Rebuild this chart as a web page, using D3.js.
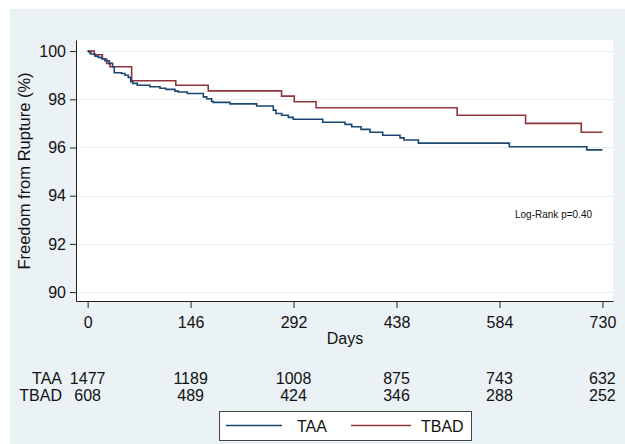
<!DOCTYPE html>
<html>
<head>
<meta charset="utf-8">
<script src="https://cdn.jsdelivr.net/npm/d3@7"></script>
<style>
  html, body { margin: 0; padding: 0; background: #ffffff; }
  svg { display: block; }
  text { font-family: "Liberation Sans", Arial, sans-serif; fill: #111; }
</style>
</head>
<body>
<svg id="chart" width="625" height="444"></svg>
<script>
// ---- data ----
const xTicks = [0, 146, 292, 438, 584, 730];
const yTicks = [90, 92, 94, 96, 98, 100];

const taaDays = [0, 2.3, 4.3, 10.4, 15, 19.8, 24.5, 30.7, 35.4, 37.8, 48.2, 52.9, 57.6, 61, 63.8, 70.4, 88.4, 102.6, 111, 123.8, 128.6, 141.3, 164, 168.8, 175.9, 178.2, 201.8, 239.7, 263.3, 267, 275.2, 284.6, 291.6, 333.3, 365, 374.5, 387.7, 400.4, 418.4, 443, 448.7, 469, 598, 707.8, 730];
const taaSurv = [100, 99.93, 99.88, 99.79, 99.74, 99.68, 99.60, 99.49, 99.35, 99.10, 99.07, 99.0, 98.91, 98.73, 98.66, 98.58, 98.52, 98.46, 98.41, 98.34, 98.30, 98.24, 98.10, 98.02, 97.91, 97.87, 97.81, 97.72, 97.55, 97.41, 97.34, 97.25, 97.17, 97.05, 96.96, 96.86, 96.75, 96.63, 96.51, 96.40, 96.31, 96.18, 96.03, 95.90, 95.90];

const tbadDays = [0, 9.4, 21, 27, 31.6, 62.4, 125, 171, 275, 293, 324, 524, 621, 700, 730];
const tbadSurv = [100, 99.85, 99.67, 99.49, 99.35, 98.77, 98.58, 98.35, 98.13, 97.90, 97.65, 97.34, 97.0, 96.63, 96.63];

const groups = ["TAA", "TBAD"];
const riskTAA = [1477, 1189, 1008, 875, 743, 632];
const riskTBAD = [608, 489, 424, 346, 288, 252];

const xTitle = "Days";
const yTitle = "Freedom from Rupture (%)";
const note = "Log-Rank p=0.40";

// ---- layout ----
const svg = d3.select("#chart");
const colors = { TAA: "#1a476f", TBAD: "#90353b" };
const plot = { left: 76, right: 613, top: 40, bottom: 301 };

svg.append("rect").attr("x", 10).attr("y", 9).attr("width", 615).attr("height", 435)
  .attr("fill", "#eaf2f5");
svg.append("rect").attr("x", plot.left).attr("y", plot.top)
  .attr("width", plot.right - plot.left).attr("height", plot.bottom - plot.top)
  .attr("fill", "#ffffff");

const x = d3.scaleLinear().domain([-16.5, 745]).range([plot.left, plot.right]);
const y = d3.scaleLinear().domain([89.63, 100.46]).range([plot.bottom, plot.top]);

// grid
svg.append("g").selectAll("line").data(yTicks).join("line")
  .attr("x1", plot.left).attr("x2", plot.right)
  .attr("y1", d => Math.round(y(d)) + 0.5).attr("y2", d => Math.round(y(d)) + 0.5)
  .attr("stroke", "#e8eff2").attr("stroke-width", 1.2);

// curves
const line = d3.line().curve(d3.curveStepAfter).x(d => x(d[0])).y(d => y(d[1]));
const taa = taaDays.map((d, i) => [d, taaSurv[i]]);
const tbad = tbadDays.map((d, i) => [d, tbadSurv[i]]);
svg.append("path").datum(tbad).attr("d", line).attr("fill", "none")
  .attr("stroke", colors.TBAD).attr("stroke-width", 1.6);
svg.append("path").datum(taa).attr("d", line).attr("fill", "none")
  .attr("stroke", colors.TAA).attr("stroke-width", 1.6);

// axes
const yAxis = svg.append("g").attr("transform", `translate(${plot.left},0)`)
  .call(d3.axisLeft(y).tickValues(yTicks).tickSize(6).tickSizeOuter(0).tickPadding(4));
const xAxis = svg.append("g").attr("transform", `translate(0,${plot.bottom})`)
  .call(d3.axisBottom(x).tickValues(xTicks).tickSize(7).tickSizeOuter(0).tickPadding(9));
[yAxis, xAxis].forEach(g => {
  g.selectAll("path").attr("stroke", "#222");
  g.selectAll("line").attr("stroke", "#222");
  g.selectAll("text").attr("font-family", "Liberation Sans, Arial, sans-serif")
    .attr("font-size", 16).attr("fill", "#111");
});
xAxis.selectAll("text").attr("dy", null).attr("y", 26.5);

// titles
svg.append("text").attr("x", (x(0) + x(730)) / 2).attr("y", 344)
  .attr("text-anchor", "middle").attr("font-size", 16).text(xTitle);
svg.append("text").attr("transform", "translate(30,171) rotate(-90)")
  .attr("text-anchor", "middle").attr("font-size", 16.5).text(yTitle);
svg.append("text").attr("x", 515).attr("y", 218).attr("font-size", 10).text(note);

// number at risk
const riskRows = [riskTAA, riskTBAD];
const rowY = [384, 401];
riskRows.forEach((row, r) => {
  svg.append("text").attr("x", 62).attr("y", rowY[r]).attr("text-anchor", "end")
    .attr("font-size", 16).text(groups[r]);
  svg.append("g").selectAll("text").data(row).join("text")
    .attr("x", (d, i) => x(xTicks[i])).attr("y", rowY[r])
    .attr("text-anchor", "middle").attr("font-size", 16).text(d => d);
});

// legend
svg.append("rect").attr("x", 219.5).attr("y", 411.5).attr("width", 252).attr("height", 29)
  .attr("fill", "#ffffff").attr("stroke", "#444").attr("stroke-width", 1);
const legItems = [
  { name: groups[0], x1: 226, x2: 282, tx: 297 },
  { name: groups[1], x1: 351, x2: 411, tx: 421 }
];
legItems.forEach(it => {
  svg.append("line").attr("x1", it.x1).attr("x2", it.x2).attr("y1", 425.5).attr("y2", 425.5)
    .attr("stroke", colors[it.name]).attr("stroke-width", 1.3);
  svg.append("text").attr("x", it.tx).attr("y", 431.5).attr("font-size", 16).text(it.name);
});
</script>
</body>
</html>
